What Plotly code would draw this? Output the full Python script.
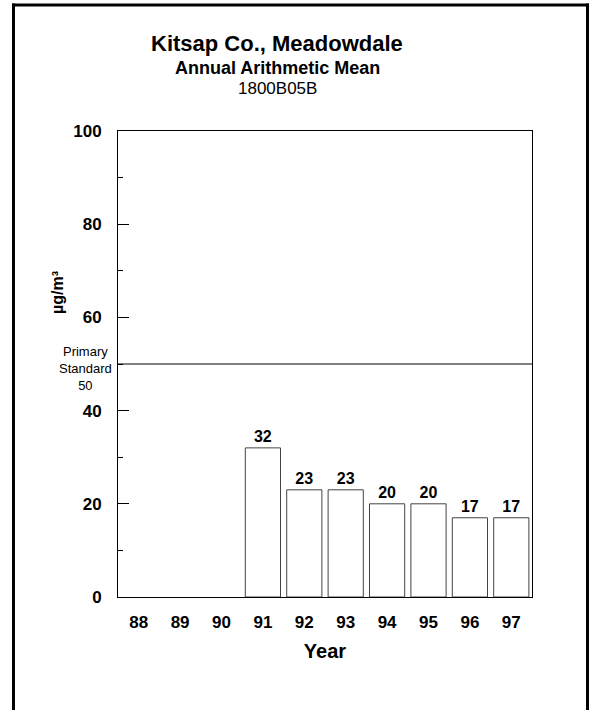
import plotly.graph_objects as go

years = ["88", "89", "90", "91", "92", "93", "94", "95", "96", "97"]
values = [None, None, None, 32, 23, 23, 20, 20, 17, 17]
standard = 50
y_ticks = [0, 20, 40, 60, 80, 100]

W, H = 589, 710
L, R, T, B = 118, 532, 131, 597
pw, ph = R - L, B - T

def px(x):
    return (x - L) / pw

def py(y):
    return (B - y) / ph

FONT = "Liberation Sans, Arial, sans-serif"

fig = go.Figure()
fig.add_trace(go.Bar(
    x=years, y=values,
    marker=dict(color="white", line=dict(color="#444444", width=1)),
    width=0.85,
    text=[("" if v is None else str(v)) for v in values],
    textposition="outside",
    textfont=dict(family=FONT, size=16, color="black", weight="bold"),
    cliponaxis=False,
))

fig.update_layout(
    width=W, height=H,
    margin=dict(l=L, r=W - R, t=T, b=H - B),
    paper_bgcolor="white", plot_bgcolor="white",
    showlegend=False,
    font=dict(family=FONT, color="black"),
    bargap=0.15,
)
fig.update_xaxes(
    type="category", categoryorder="array", categoryarray=years,
    showline=True, linecolor="black", linewidth=1, mirror=True,
    ticks="", showgrid=False,
    tickfont=dict(family=FONT, size=17, color="black", weight="bold"),
    ticklabelstandoff=10,
    title=dict(text="<b>Year</b>", font=dict(size=20, family=FONT), standoff=12),
)
fig.update_yaxes(
    range=[0, 100], tickvals=y_ticks,
    showline=True, linecolor="black", linewidth=1, mirror=True,
    ticks="inside", ticklen=11, tickcolor="black",
    minor=dict(ticks="inside", ticklen=5, dtick=10, tickcolor="black"),
    showgrid=False, zeroline=False,
    tickfont=dict(family=FONT, size=17, color="black", weight="bold"),
    ticklabelstandoff=12,
)

# primary standard line
fig.add_shape(type="line", xref="paper", yref="y", x0=0, x1=1, y0=standard, y1=standard,
              line=dict(color="black", width=1))
fig.add_annotation(xref="paper", yref="paper", x=px(85), y=py(368),
                   xanchor="center", yanchor="middle",
                   text=f"Primary<br>Standard<br>{standard}", showarrow=False,
                   font=dict(family=FONT, size=13), align="center")

# y title
fig.add_annotation(xref="paper", yref="paper", x=px(57), y=py(293),
                   xanchor="center", yanchor="middle",
                   text="<b>µg/m³</b>", textangle=-90, showarrow=False,
                   font=dict(family=FONT, size=16))

# titles
fig.add_annotation(xref="paper", yref="paper", x=px(277), y=py(44),
                   xanchor="center", yanchor="middle",
                   text="<b>Kitsap Co., Meadowdale</b>", showarrow=False,
                   font=dict(family=FONT, size=22))
fig.add_annotation(xref="paper", yref="paper", x=px(277), y=py(68),
                   xanchor="center", yanchor="middle",
                   text="<b>Annual Arithmetic Mean</b>", showarrow=False,
                   font=dict(family=FONT, size=18))
fig.add_annotation(xref="paper", yref="paper", x=px(277), y=py(89),
                   xanchor="center", yanchor="middle",
                   text="1800B05B", showarrow=False,
                   font=dict(family=FONT, size=17))

# outer frame
frame = dict(color="black", width=3)
fig.add_shape(type="line", xref="paper", yref="paper",
              x0=px(12), x1=px(589), y0=py(5), y1=py(5), line=frame, layer="above")
fig.add_shape(type="line", xref="paper", yref="paper",
              x0=px(13.5), x1=px(13.5), y0=py(3.5), y1=py(712), line=frame, layer="above")
fig.add_shape(type="line", xref="paper", yref="paper",
              x0=px(587.5), x1=px(587.5), y0=py(3.5), y1=py(712), line=frame, layer="above")

fig.write_html("out.html", config={"displayModeBar": False},
               post_script="document.body.style.margin='0';")
